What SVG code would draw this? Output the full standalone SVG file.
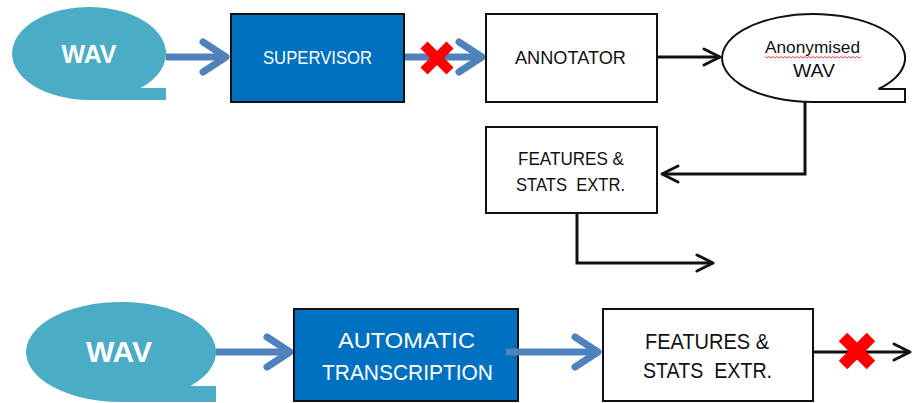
<svg xmlns="http://www.w3.org/2000/svg" width="914" height="403" viewBox="0 0 914 403">
  <style>
    .txt { font-family: "Liberation Sans", Arial, sans-serif; text-anchor: middle; }
    .white { fill: #FFFFFF; }
    .dark { fill: #111111; }
    .bubble { fill: #4BACC6; }
    .bluebox { fill: #0070C0; stroke: #111111; stroke-width: 2; }
    .whitebox { fill: #FFFFFF; stroke: #111111; stroke-width: 2; }
    .blueline { fill: none; stroke: #4F81BD; stroke-width: 7; }
    .blackline { fill: none; stroke: #111111; stroke-width: 3; stroke-linejoin: miter; }
    .cross { stroke: #FF0000; stroke-linecap: butt; }
  </style>
  <defs>
    <marker id="blueArrow" markerUnits="userSpaceOnUse" viewBox="0 0 34 38" refX="29" refY="19" markerWidth="34" markerHeight="38" orient="auto" overflow="visible">
      <path d="M6,4 L29,19 L6,34" fill="none" stroke="#4F81BD" stroke-width="7" stroke-linecap="round" stroke-linejoin="round"/>
    </marker>
    <marker id="blackArrow" markerUnits="userSpaceOnUse" viewBox="0 0 24 22" refX="19" refY="11" markerWidth="24" markerHeight="22" orient="auto" overflow="visible">
      <path d="M3,3 L19,11 L3,19" fill="none" stroke="#111111" stroke-width="3" stroke-linecap="round" stroke-linejoin="round"/>
    </marker>
  </defs>

  <g id="connectors">
    <path class="blueline" d="M166,57 L226,57" marker-end="url(#blueArrow)"/>
    <path class="blueline" d="M404,57 L482,57" marker-end="url(#blueArrow)"/>
    <path class="blackline" d="M657,57 L720,57" marker-end="url(#blackArrow)"/>
    <path class="blackline" d="M805,102 L805,174 L662,174" marker-end="url(#blackArrow)"/>
    <path class="blackline" d="M577,213 L577,263 L713,263" marker-end="url(#blackArrow)"/>
    <path class="blueline" d="M216,352 L290,352" marker-end="url(#blueArrow)"/>
    <path class="blackline" d="M813,352 L910,352" marker-end="url(#blackArrow)"/>
  </g>

  <g id="wav-top">
    <path class="bubble" d="M140.7,88 L166,88 L166,100 L89,100 A77,46.5 0 1 1 140.7,88 Z"/>
    <text class="txt white" x="89" y="63" font-size="25" font-weight="bold">WAV</text>
  </g>

  <g id="supervisor">
    <rect class="bluebox" x="231" y="14" width="173" height="88"/>
    <text class="txt white" x="317.5" y="64" font-size="18" textLength="109" lengthAdjust="spacingAndGlyphs">SUPERVISOR</text>
  </g>

  <g id="annotator">
    <rect class="whitebox" x="486" y="14" width="171" height="88"/>
    <text class="txt dark" x="570.5" y="64" font-size="18" textLength="111" lengthAdjust="spacingAndGlyphs">ANNOTATOR</text>
  </g>

  <g id="anonymised-wav">
    <path d="M878.5,89 L905,89 L905,102 L813.5,102 A91.5,44 0 1 1 878.5,89 Z" fill="#FFFFFF" stroke="#111111" stroke-width="2"/>
    <text class="txt dark" x="812.5" y="53" font-size="16.5" textLength="95" lengthAdjust="spacingAndGlyphs">Anonymised</text>
    <path d="M765,56.5 l2,1.5 l2,-1.5 l2,1.5 l2,-1.5 l2,1.5 l2,-1.5 l2,1.5 l2,-1.5 l2,1.5 l2,-1.5 l2,1.5 l2,-1.5 l2,1.5 l2,-1.5 l2,1.5 l2,-1.5 l2,1.5 l2,-1.5 l2,1.5 l2,-1.5 l2,1.5 l2,-1.5 l2,1.5 l2,-1.5 l2,1.5 l2,-1.5 l2,1.5 l2,-1.5 l2,1.5 l2,-1.5 l2,1.5 l2,-1.5 l2,1.5 l2,-1.5 l2,1.5 l2,-1.5 l2,1.5 l2,-1.5 l2,1.5 l2,-1.5 l2,1.5 l2,-1.5 l2,1.5 l2,-1.5 l2,1.5 l2,-1.5 l2,1.5 l2,-1.5" fill="none" stroke="#E03030" stroke-width="0.9"/>
    <text class="txt dark" x="814" y="77" font-size="18.5" textLength="42" lengthAdjust="spacingAndGlyphs">WAV</text>
  </g>

  <g id="features-top">
    <rect class="whitebox" x="486" y="127" width="171" height="86"/>
    <text class="txt dark" x="571" y="165" font-size="18" textLength="106" lengthAdjust="spacingAndGlyphs">FEATURES &amp;</text>
    <text class="txt dark" x="570.5" y="191" font-size="18" textLength="109" lengthAdjust="spacingAndGlyphs" xml:space="preserve">STATS  EXTR.</text>
  </g>

  <g id="cross-top">
    <path class="cross" d="M424,45 L450,71 M450,45 L424,71" stroke-width="10"/>
  </g>

  <g id="wav-bottom">
    <path class="bubble" d="M190.7,386 L216,386 L216,402 L121,402 A95,50 0 1 1 190.7,386 Z"/>
    <text class="txt white" x="119" y="362" font-size="30" font-weight="bold">WAV</text>
  </g>

  <g id="automatic-transcription">
    <rect class="bluebox" x="294" y="309" width="224" height="92"/>
    <text class="txt white" x="406.5" y="348" font-size="22.5" textLength="137" lengthAdjust="spacingAndGlyphs">AUTOMATIC</text>
    <text class="txt white" x="407.5" y="380" font-size="22.5" textLength="171" lengthAdjust="spacingAndGlyphs">TRANSCRIPTION</text>
  </g>

  <g id="connector-at-features">
    <path class="blueline" d="M506,352 L598,352" marker-end="url(#blueArrow)"/>
  </g>

  <g id="features-bottom">
    <rect class="whitebox" x="603" y="309" width="210" height="92"/>
    <text class="txt dark" x="707" y="349" font-size="21.5" textLength="124" lengthAdjust="spacingAndGlyphs">FEATURES &amp;</text>
    <text class="txt dark" x="707.5" y="378" font-size="21.5" textLength="129" lengthAdjust="spacingAndGlyphs" xml:space="preserve">STATS  EXTR.</text>
  </g>

  <g id="cross-bottom">
    <path class="cross" d="M843,337 L871,365 M871,337 L843,365" stroke-width="12"/>
  </g>
</svg>
